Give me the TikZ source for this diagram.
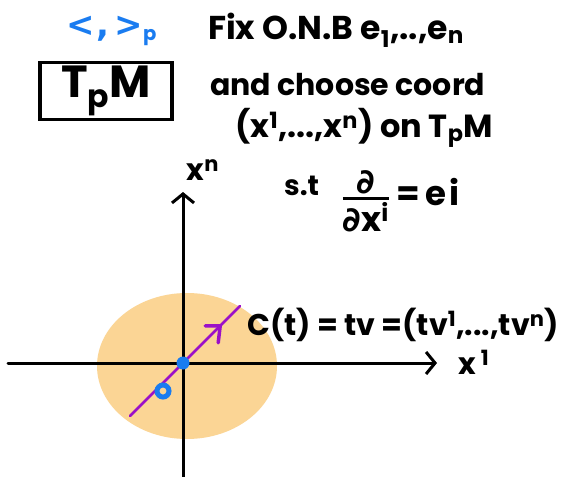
\documentclass[tikz,border=0pt]{standalone}
\usepackage{fontspec}
\setmainfont{Poppins}
\newfontfamily\dvfont{DejaVu Sans}
\usetikzlibrary{arrows.meta,shapes.geometric,calc}
\definecolor{penblue}{HTML}{1A7CF0}
\definecolor{orangefill}{HTML}{FBD595}
\definecolor{penpurple}{HTML}{9B10C8}
\newcommand{\handsz}[1]{\bfseries\fontsize{#1}{#1}\selectfont}
\tikzset{
  hand/.style={inner sep=0pt},
  axisline/.style={line width=3pt, line cap=round, -{Straight Barb[length=9pt,width=22pt,line width=3pt]}},
}
\begin{document}
\begin{tikzpicture}[x=1pt,y=-1pt]
\useasboundingbox (0,0) rectangle (571,477);
\fill[white] (0,0) rectangle (571,477);
% disk
\node[ellipse, fill=orangefill, minimum width=180pt, minimum height=146pt, inner sep=0] (disk) at (187,366) {};
% axes
\coordinate (O) at (183,363);
\coordinate (xl) at (8,363);
\coordinate (xr) at (437,363);
\coordinate (yb) at (183,477);
\coordinate (yt) at (183,192);
\draw[axisline] (xl) -- (xr);
\draw[axisline] (yb) -- (yt);
% curve
\coordinate (ca) at (130,416);
\coordinate (cb) at (240,306);
\draw[penpurple, line width=2.5pt, line cap=round] (ca) -- (cb);
\coordinate (ct) at ($(ca)!0.82!(cb)$);
\draw[penpurple, line width=3.5pt, line cap=round, line join=round] ($(ct)+(-15,0)$) -- (ct) -- ($(ct)+(-2,17)$);
% points
\node[circle, fill=penblue, minimum size=13pt, inner sep=0] (p0) at (O) {};
\node[circle, draw=penblue, line width=5pt, minimum size=12pt, inner sep=0] (p1) at (163,391) {};
% labels
\node[hand, text=penblue, anchor=west, font=\handsz{28}] (ip) at (66,31) {{\dvfont\bfseries\fontsize{34}{34}\selectfont <\kern2pt,\kern5pt>}\textsubscript{p}};
\node[draw, line width=3.5pt, minimum width=132pt, minimum height=57pt, inner sep=0, font=\handsz{45}] (tpm) at (106,91) {T\textsubscript{p}M};
\node[hand, anchor=west, font=\handsz{33}] (l1) at (208,30) {Fix O.N.B e\textsubscript{1},..,e\textsubscript{n}};
\node[hand, anchor=west, font=\handsz{30}] (l2) at (210,85) {and choose coord};
\node[hand, anchor=west, font=\handsz{32}] (l3) at (235,128) {(x\textsuperscript{1},...,x\textsuperscript{n}) on T\textsubscript{p}M};
\node[hand, anchor=west, font=\handsz{28}] (st) at (284,186) {s.t};
\node[hand, inner sep=0, font=\handsz{34}] (frac) at (366,201) {${\hbox{\dvfont\bfseries ∂}\above 3pt \hbox{\dvfont\bfseries ∂\rmfamily\bfseries x\textsuperscript{i}}}$};
\node[hand, anchor=west, font=\handsz{34}] (eq) at (396,192) {=\kern6pt e\kern3pt i};
\node[hand, font=\handsz{30}] (xn) at (203,170) {x\textsuperscript{n}};
\node[hand, anchor=west, font=\handsz{30}] (x1) at (458,362) {x\,\textsuperscript{1}};
\node[hand, anchor=west, font=\handsz{30}] (ctext) at (247,325) {C(t) = tv =(tv\textsuperscript{1},...,tv\textsuperscript{n})};
\end{tikzpicture}
\end{document}
